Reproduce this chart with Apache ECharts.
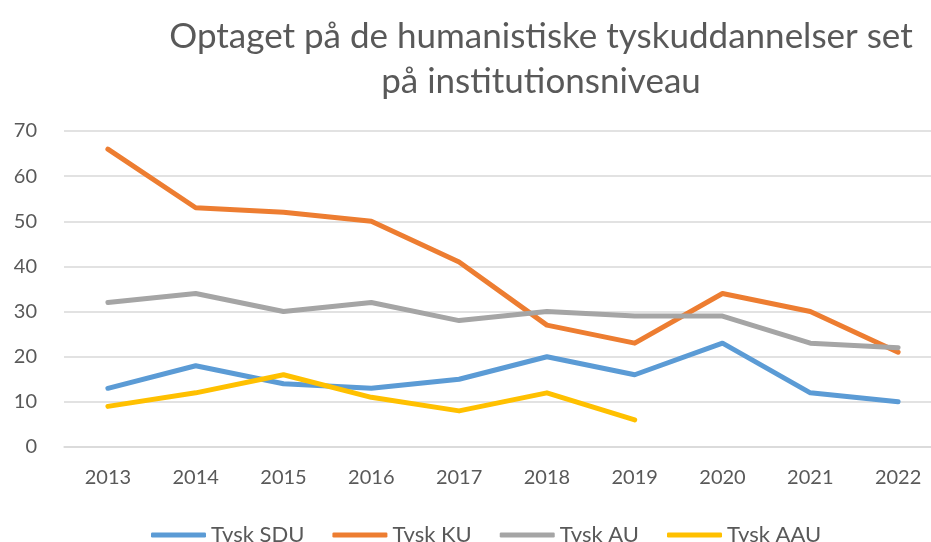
<!DOCTYPE html>
<html><head><meta charset="utf-8">
<script src="https://cdn.jsdelivr.net/npm/echarts@6/dist/echarts.min.js"></script>
<style>html,body{margin:0;padding:0;background:#fff;overflow:hidden}#c{width:942px;height:542px}</style>
</head><body><div id="c"></div>
<script>
var years = ['2013','2014','2015','2016','2017','2018','2019','2020','2021','2022'];
var sdu = [13, 18, 14, 13, 15, 20, 16, 23, 12, 10];
var ku  = [66, 53, 52, 50, 41, 27, 23, 34, 30, 21];
var au  = [32, 34, 30, 32, 28, 30, 29, 29, 23, 22];
var aau = [9, 12, 16, 11, 8, 12, 6, null, null, null];
var names = ['Tysk SDU','Tysk KU','Tysk AU','Tysk AAU'];
var colors = ['#5B9BD5','#ED7D31','#A5A5A5','#FFC000'];
var font = 'Lato, "Open Sans", sans-serif';
var chart = echarts.init(document.getElementById('c'));
function mk(i, d){
  return {name:names[i], type:'line', data:d, symbol:'none', connectNulls:false,
    lineStyle:{width:5, color:colors[i], cap:'round', join:'round'}, itemStyle:{color:colors[i]}};
}
chart.setOption({
  animation:false,
  title:{text:'Optaget på de humanistiske tyskuddannelser set\npå institutionsniveau', left:536, top:9, textAlign:'center',
    textStyle:{fontFamily:font, fontSize:35, fontWeight:'normal', color:'#595959', lineHeight:45}},
  legend:{bottom:-9, left:146, itemWidth:55, itemHeight:5, itemGap:28, icon:'roundRect',
    textStyle:{fontFamily:font, fontSize:22, color:'#595959'}, data:names},
  grid:{left:64, right:0, top:131, bottom:95},
  xAxis:{type:'category', data:years, boundaryGap:true,
    axisLine:{lineStyle:{color:'#d9d9d9', width:1.5}}, axisTick:{show:false},
    axisLabel:{fontFamily:font, fontSize:20, color:'#595959', margin:21}},
  yAxis:{type:'value', min:0, max:70, interval:10,
    axisLine:{show:false}, axisTick:{show:false},
    splitLine:{lineStyle:{color:'#d9d9d9', width:1.5}},
    axisLabel:{fontFamily:font, fontSize:20, color:'#595959', margin:27}},
  series:[mk(0,sdu), mk(1,ku), mk(2,au), mk(3,aau)]
});
</script></body></html>
